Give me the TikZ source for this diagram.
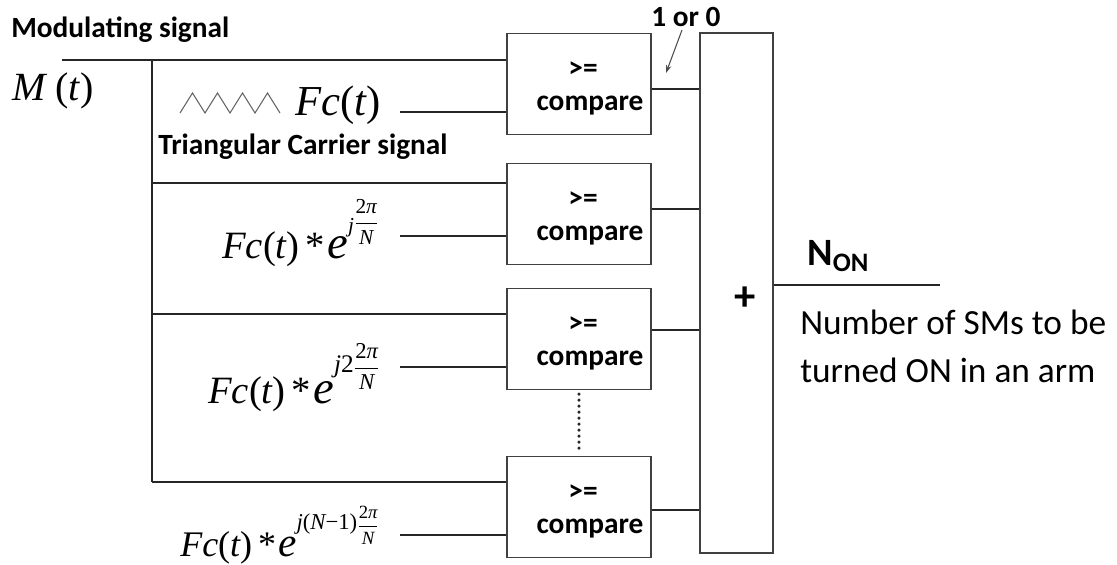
\documentclass[tikz,border=0pt]{standalone}
\usepackage{amsmath}
\usepackage[no-math]{fontspec}
\setmainfont{Carlito}
\newfontfamily\tnr{Liberation Serif}
\usetikzlibrary{arrows.meta}
\newcommand{\tI}[1]{{\tnr\itshape #1}}
\newcommand{\tR}[1]{{\tnr #1}}
\newcommand{\sz}[1]{\fontsize{#1}{#1}\selectfont}
\newcommand{\myfrac}[3]{\raisebox{#1}{\sz{#2}$\genfrac{}{}{0.6pt}{0}{\text{#3}}{\text{\tI{N}}}$}}
\tikzset{
  x=0.75pt, y=-0.75pt,
  wire/.style={line width=1.5pt, draw=black!85},
  cmpbox/.style={draw=black!75, line width=1pt, minimum width=108pt, minimum height=75.75pt, inner sep=0pt},
  sumbox/.style={draw=black!75, line width=1pt, minimum width=54.75pt, minimum height=390pt, inner sep=0pt},
  blabel/.style={font=\fontsize{22}{26}\selectfont\bfseries, inner sep=0pt},
  mlabel/.style={font=\fontsize{29}{34}\selectfont\tnr, inner sep=0pt},
}
\begin{document}
\begin{tikzpicture}
\useasboundingbox (0,0) rectangle (1117,564);
% boxes
\node[cmpbox] (c1) at (579,84) {};
\node[cmpbox] (c2) at (579,214) {};
\node[cmpbox] (c3) at (579,339) {};
\node[cmpbox] (c4) at (579,507) {};
\foreach \i in {1,2,3,4}{
  \node[blabel] (ge\i) at ([xshift=3pt, yshift=10.5pt]c\i.center) {>=};
  \node[blabel] (cm\i) at ([xshift=8.25pt, yshift=-16.5pt]c\i.center) {compare};
}
\node[sumbox] (s) at (736.5,293) {};
\node[font=\fontsize{32}{32}\selectfont\bfseries, inner sep=0pt] (plus) at (745,299) {+};
% labels
\node[blabel, anchor=west] (modlab) at (11,30) {Modulating signal};
\node[mlabel, font=\fontsize{30}{34}\selectfont\tnr, anchor=base west] (mt) at (12,100) {\tI{M} (\tI{t})};
\node[mlabel, font=\fontsize{32}{34}\selectfont\tnr, anchor=base west] (fc1) at (295,115) {\tI{Fc}(\tI{t})};
\node[blabel, anchor=west] (tri) at (158,147) {Triangular Carrier signal};
\node[mlabel, anchor=base west] (fc2) at (222,258) {\tI{Fc}(\tI{t})\,*\kern1.5pt{\sz{35}\tI{e}}\raisebox{19pt}{\sz{16}\tI{j}}\myfrac{22pt}{16}{\tR{2}\tI{π}}};
\node[mlabel, anchor=base west] (fc3) at (208,403) {\tI{Fc}(\tI{t})\,*\kern1.5pt{\sz{35}\tI{e}}\raisebox{23pt}{\sz{19}\tI{j}2}\myfrac{21.75pt}{17}{\tR{2}\tI{π}}};
\node[mlabel, font=\fontsize{27}{32}\selectfont\tnr, anchor=base west] (fc4) at (180,556) {\tI{Fc}(\tI{t})\,*\kern1.5pt{\sz{31}\tI{e}}\raisebox{20pt}{\sz{17}\tI{j}(\tI{N}−1)}\myfrac{18.5pt}{14}{\tR{2}\tI{π}}};
\node[blabel] (onezero) at (686,17) {1 or 0};
\node[font=\fontsize{29}{32}\selectfont\bfseries, inner sep=0pt] (non) at (838,256) {N\raisebox{-4pt}{\fontsize{20}{22}\selectfont ON}};
\node[font=\fontsize{26.5}{36}\selectfont, anchor=west, align=left, inner sep=0pt] (desc) at (800,346) {Number of SMs to be\\turned ON in an arm};
% triangle wave
\draw[black!60, line width=0.8pt] (180,113) -- (192.5,93) -- (205,113) -- (217.5,93) -- (230,113) -- (242.5,93) -- (255,113) -- (267.5,93) -- (280,113);
% coordinates
\coordinate (m0) at (62,60);
\coordinate (b1) at (152,60);
\coordinate (b2) at (152,183);
\coordinate (b3) at (152,314);
\coordinate (b4) at (152,482);
\coordinate (i1) at (400,112);
\coordinate (i2) at (400,236);
\coordinate (i3) at (400,367);
\coordinate (i4) at (400,535);
\coordinate (nend) at (940,285);
\coordinate (arrtail) at (682,30);
\coordinate (arrtip) at (666,73);
% wires
\draw[wire] (m0) -- (m0 -| c1.west);
\draw[wire] (b1) -- (b4);
\draw[wire] (b2) -- (b2 -| c2.west);
\draw[wire] (b3) -- (b3 -| c3.west);
\draw[wire] (b4) -- (b4 -| c4.west);
\foreach \i in {1,2,3,4}{ \draw[wire] (i\i) -- (i\i -| c\i.west); }
\draw[wire] ([yshift=-3.75pt]c1.east) -- ([yshift=-3.75pt]c1.east -| s.west);
\draw[wire] ([yshift=3.75pt]c2.east) -- ([yshift=3.75pt]c2.east -| s.west);
\draw[wire] ([yshift=6.75pt]c3.east) -- ([yshift=6.75pt]c3.east -| s.west);
\draw[wire] ([yshift=-2.25pt]c4.east) -- ([yshift=-2.25pt]c4.east -| s.west);
\draw[wire] (nend -| s.east) -- (nend);
\draw[line width=2.6pt, black!85, line cap=round, dash pattern=on 0pt off 4.5pt] ([yshift=-3pt]c3.south) -- ([yshift=3pt]c4.north);
\draw[black!70, line width=0.8pt, -{Stealth[length=6pt,width=4pt]}] (arrtail) -- (arrtip);
\end{tikzpicture}
\end{document}
